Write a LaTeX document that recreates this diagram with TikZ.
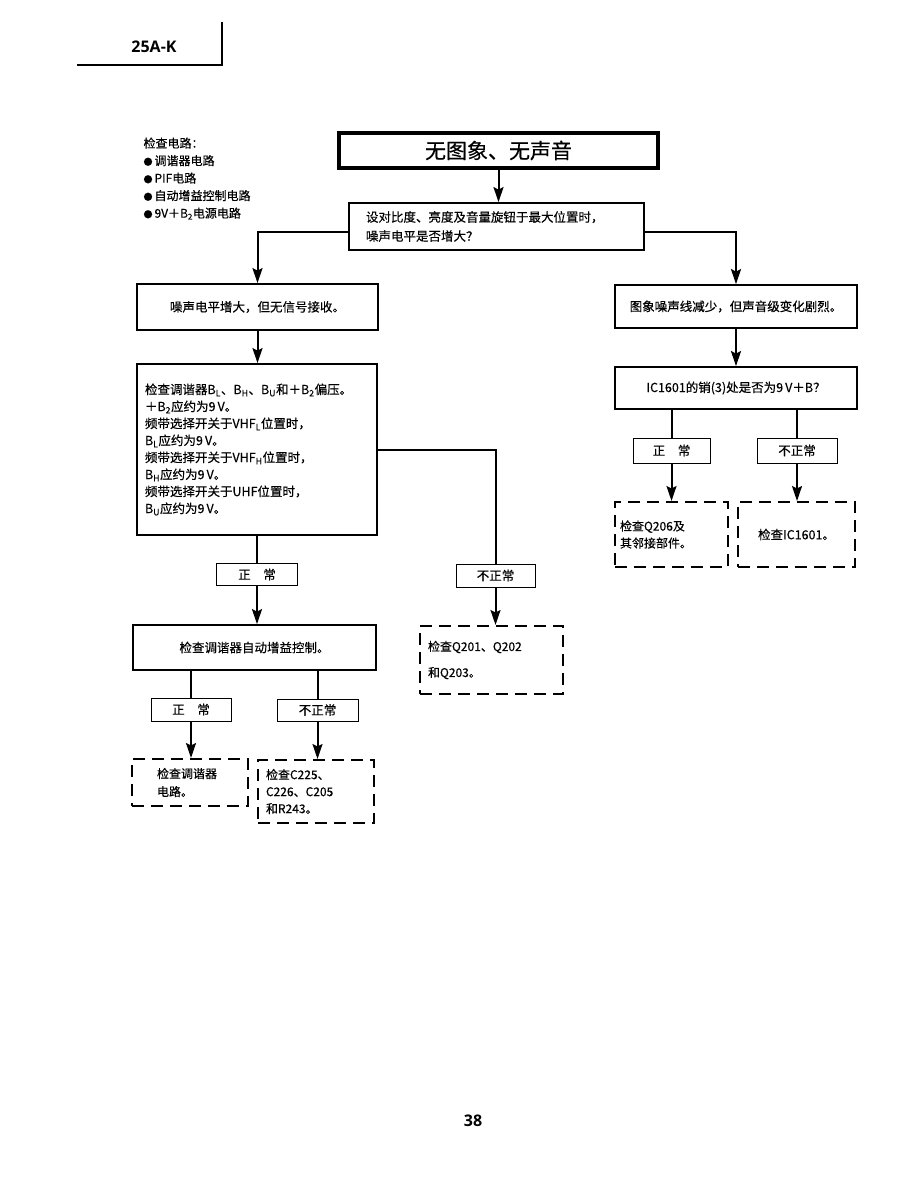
\documentclass[tikz,border=0pt]{standalone}
\usepackage{fontspec}
\setmainfont{Noto Sans CJK SC}[FakeBold=0.35]
\newfontfamily\headfont{Open Sans}
\usetikzlibrary{arrows.meta}
\newcommand{\lo}[1]{\textsubscript{#1}}
\newcommand{\dotmark}{{\fontsize{9}{9}\selectfont ●}\,}

\begin{document}
\begin{tikzpicture}[x=1pt,y=-1pt,
  font=\fontsize{12.5}{17}\selectfont,
  box/.style={draw,line width=1.8pt,inner sep=0pt},
  tag/.style={draw,line width=1pt,inner sep=0pt},
  dbox/.style={draw,line width=2pt,dash pattern=on 12pt off 7pt,inner sep=0pt},
  wire/.style={draw,line width=2pt},
  flow/.style={wire,-{Stealth[length=15pt,width=10pt,inset=2.5pt]}}]
\useasboundingbox (0,0) rectangle (918,1188);

% page header
\node[font=\headfont\bfseries\fontsize{16}{18}\selectfont] (model) at (154,47) {25A-K};
\draw[line width=1.2pt] (77,65) -- (222,65) -- (222,22);

% circuits to check
\node[anchor=north west,align=left,font=\fontsize{12}{17.5}\selectfont] (legend) at (140,134)
  {检查电路：\\\dotmark 调谐器电路\\\dotmark PIF电路\\\dotmark 自动增益控制电路\\\dotmark 9V＋B\lo{2}电源电路};

% main column
\node[box,line width=3.8pt,minimum width=319pt,minimum height=35pt,
      font=\fontsize{21}{24}\selectfont] (top) at (498.5,150.5) {无图象、无声音};
\node[box,minimum width=295pt,minimum height=47pt,text width=261pt,inner xsep=17pt,
      align=left,font=\fontsize{12.5}{19}\selectfont] (ask) at (496.5,226.5)
  {设对比度、亮度及音量旋钮于最大位置时，\\噪声电平是否增大？};

% left branch
\node[box,minimum width=241pt,minimum height=46pt] (noise) at (257.5,307)
  {噪声电平增大，但无信号接收。};
\node[box,minimum width=240pt,minimum height=171pt,text width=224pt,inner xsep=8pt,
      align=left] (bias) at (257,449.5)
  {检查调谐器B\lo{L}、B\lo{H}、B\lo{U}和＋B\lo{2}偏压。\\
   ＋B\lo{2}应约为9\,V。\\
   频带选择开关于VHF\lo{L}位置时，\\
   B\lo{L}应约为9\,V。\\
   频带选择开关于VHF\lo{H}位置时，\\
   B\lo{H}应约为9\,V。\\
   频带选择开关于UHF位置时，\\
   B\lo{U}应约为9\,V。};
\node[tag,minimum width=81pt,minimum height=22pt] (ok1) at (257,574.5) {正\quad 常};
\node[tag,minimum width=79pt,minimum height=23pt] (bad1) at (495.5,575.5) {不正常};
\node[box,minimum width=243pt,minimum height=45pt] (agc) at (254.5,647.5)
  {检查调谐器自动增益控制。};
\node[dbox,minimum width=143pt,minimum height=68pt,text width=127pt,inner xsep=8pt,
      align=left,font=\fontsize{12}{26}\selectfont] (qchk) at (491.5,660)
  {检查Q201、Q202\\和Q203。};
\node[tag,minimum width=80pt,minimum height=23pt] (ok2) at (191,709.5) {正\quad 常};
\node[tag,minimum width=81pt,minimum height=22pt] (bad2) at (317.5,710) {不正常};
\node[dbox,minimum width=116pt,minimum height=47pt,text width=66pt,inner xsep=25pt,
      align=left,font=\fontsize{12}{18}\selectfont] (tuner) at (190,782.5)
  {检查调谐器\\电路。};
\node[dbox,minimum width=116pt,minimum height=63pt,text width=100pt,inner xsep=8pt,
      align=left,font=\fontsize{12}{17}\selectfont] (caps) at (316,791.5)
  {检查C225、\\C226、C205\\和R243。};

% right branch
\node[box,minimum width=242pt,minimum height=43pt] (lines) at (736,306.5)
  {图象噪声线减少，但声音级变化剧烈。};
\node[box,minimum width=242pt,minimum height=42pt] (pin) at (736,388)
  {IC1601的销(3)处是否为9\,V＋B？};
\node[tag,minimum width=77pt,minimum height=25pt] (ok3) at (671.5,450.5) {正\quad 常};
\node[tag,minimum width=80pt,minimum height=25pt] (bad3) at (797,450.5) {不正常};
\node[dbox,minimum width=113pt,minimum height=65pt,text width=103pt,inner xsep=5pt,
      align=left,font=\fontsize{12}{17}\selectfont] (qnear) at (671.5,534.5)
  {检查Q206及\\其邻接部件。};
\node[dbox,minimum width=117pt,minimum height=65pt] (ic) at (796.5,534.5)
  {检查IC1601。};

% page number
\node[font=\headfont\bfseries\fontsize{16}{18}\selectfont] (page) at (473,1121) {38};

% connectors
\draw[flow] (top.south) -- (top.south |- ask.north);
\draw[flow] ([yshift=-5.5pt]ask.west) -| (noise.north);
\draw[flow] ([yshift=-5.5pt]ask.east) -| (lines.north);
\draw[flow] (noise.south) -- (noise.south |- bias.north);
\draw[wire] (bias.south -| ok1.north) -- (ok1.north);
\draw[flow] (ok1.south) -- (ok1.south |- agc.north);
\draw[wire] (bias.east) -| (bad1.north);
\draw[flow] (bad1.south) -- (bad1.south |- qchk.north);
\draw[wire] (agc.south -| ok2.north) -- (ok2.north);
\draw[wire] (agc.south -| bad2.north) -- (bad2.north);
\draw[flow] (ok2.south) -- (ok2.south |- tuner.north);
\draw[flow] (bad2.south) -- (bad2.south |- caps.north);
\draw[flow] (lines.south) -- (lines.south |- pin.north);
\draw[wire] (pin.south -| ok3.north) -- (ok3.north);
\draw[wire] (pin.south -| bad3.north) -- (bad3.north);
\draw[flow] (ok3.south) -- (ok3.south |- qnear.north);
\draw[flow] (bad3.south) -- (bad3.south |- ic.north);
\end{tikzpicture}
\end{document}
